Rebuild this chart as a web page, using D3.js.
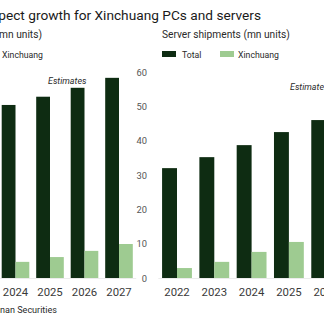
<!DOCTYPE html>
<html>
<head>
<meta charset="utf-8">
<title>Xinchuang PCs and servers</title>
<style type="text/css">
  body { margin: 0; background: #fff; }
  svg { display: block; font-family: Roboto, "Noto Sans", sans-serif; }
</style>
<script src="https://cdn.jsdelivr.net/npm/d3@7/dist/d3.min.js"></script>
</head>
<body>
<div id="chart"></div>
<script type="text/javascript">
// PC panel (left, cropped)
var pcYears = ["2024", "2025", "2026", "2027"];
var pcTotal = [50.4, 52.8, 55.4, 58.3];
var pcXinchuang = [4.7, 6.1, 7.9, 9.9];
var pcTicks = [0, 10, 20, 30, 40, 50, 60];

// server panel (right, cropped)
var serverYears = ["2022", "2023", "2024", "2025", "2026"];
var serverTotal = [3.2, 3.52, 3.87, 4.25, 4.6];
var serverXinchuang = [0.29, 0.47, 0.76, 1.05, 1.3];
var serverTicks = [0, 1, 2, 3, 4, 5, 6];

var seriesNames = ["Total", "Xinchuang"];
var colours = ["#0e2c12", "#9ecb91"];

var width = 324, height = 330;
var svg = d3.select("#chart").append("svg")
  .attr("width", width)
  .attr("height", height);

// font size that makes a string take a given width
function sizeFor(str, targetW, style) {
  var t = svg.append("text").style("font-size", "20px").text(str);
  if (style) t.style("font-style", style);
  var w = t.node().getComputedTextLength();
  t.remove();
  return 20 * targetW / w;
}

var titleSize = sizeFor("pect growth for Xinchuang PCs and servers", 263);
var subSize = sizeFor("Server shipments (mn units)", 128);
var legSize = sizeFor("Xinchuang", 41);
var yearSize = sizeFor("2024", 25.5);
var tickSize = sizeFor("10", 10.5);
var estSize = sizeFor("Estimates", 38.5, "italic");
var srcSize = sizeFor("nan Securities", 57);

svg.append("text")
  .attr("x", 261).attr("y", 19.5)
  .attr("text-anchor", "end")
  .style("font-size", titleSize + "px").style("fill", "#1a1a1a")
  .text("Analysts expect growth for Xinchuang PCs and servers");

var baseY = 278, topY = 72;

function panel(opts) {
  var g = svg.append("g");
  var x = d3.scaleBand().domain(opts.years).range(opts.xRange)
    .paddingInner(0.2).paddingOuter(0.1);
  var x1 = d3.scaleBand().domain(seriesNames).range([0, x.bandwidth()]);
  var y = d3.scaleLinear().domain(opts.yDomain).range([baseY, topY]);

  g.append("text")
    .attr("x", opts.subX).attr("y", 38)
    .attr("text-anchor", opts.subAnchor)
    .style("font-size", subSize + "px").style("fill", "#2a2a2a")
    .text(opts.subtitle);

  // legend
  var leg = g.append("g").attr("transform", "translate(" + opts.legX + ",54)");
  var swX = [0, 58], txX = [20, 76];
  seriesNames.forEach(function (name, i) {
    leg.append("rect").attr("x", swX[i]).attr("y", -3).attr("width", 14).attr("height", 6)
      .style("fill", colours[i]);
    leg.append("text").attr("x", txX[i]).attr("y", 4)
      .style("font-size", legSize + "px").style("fill", "#2a2a2a").text(name);
  });

  g.append("line")
    .attr("x1", opts.xRange[0]).attr("x2", opts.xRange[1])
    .attr("y1", baseY + 0.5).attr("y2", baseY + 0.5)
    .style("stroke", "#ececec");

  var rows = opts.years.map(function (yr, i) {
    return { year: yr, values: [opts.total[i], opts.xin[i]] };
  });
  g.selectAll("g.grp").data(rows).enter().append("g")
    .attr("class", "grp")
    .attr("transform", function (d) { return "translate(" + x(d.year) + ",0)"; })
    .selectAll("rect").data(function (d) { return d.values; }).enter().append("rect")
    .attr("x", function (d, i) { return x1(seriesNames[i]); })
    .attr("width", x1.bandwidth())
    .attr("y", function (d) { return y(d); })
    .attr("height", function (d) { return baseY - y(d); })
    .style("fill", function (d, i) { return colours[i]; });

  var xAxis = g.append("g").attr("transform", "translate(0," + baseY + ")")
    .call(d3.axisBottom(x).tickSize(0).tickPadding(10));
  xAxis.select(".domain").remove();
  xAxis.selectAll("text").style("font-size", yearSize + "px").style("fill", "#3a3a3a")
    .style("font-family", "Roboto, sans-serif");

  var yAxis = g.append("g").attr("transform", "translate(" + opts.axisX + ",0)")
    .call(d3.axisLeft(y).tickValues(opts.ticks).tickSize(0).tickPadding(0));
  yAxis.select(".domain").remove();
  yAxis.selectAll("text").style("font-size", tickSize + "px").style("fill", "#555")
    .style("font-family", "Roboto, sans-serif");

  g.append("text")
    .attr("x", opts.estX).attr("y", opts.estY)
    .style("font-size", estSize + "px").style("font-style", "italic").style("fill", "#2a2a2a")
    .text("Estimates");
}

panel({
  years: pcYears, total: pcTotal, xin: pcXinchuang, ticks: pcTicks,
  xRange: [-1.75, 136.25], yDomain: [0, 60], axisX: 147,
  subtitle: "PC shipments (mn units)", subX: 42, subAnchor: "end",
  legX: -74, estX: 48, estY: 84
});

panel({
  years: serverYears, total: serverTotal, xin: serverXinchuang, ticks: serverTicks,
  xRange: [158.35, 344.85], yDomain: [0, 6], axisX: 372,
  subtitle: "Server shipments (mn units)", subX: 162, subAnchor: "start",
  legX: 162, estX: 290, estY: 90
});

svg.append("text")
  .attr("x", 57).attr("y", 313)
  .attr("text-anchor", "end")
  .style("font-size", srcSize + "px").style("fill", "#2a2a2a")
  .text("Source: Guotai Junan Securities");
</script>
</body>
</html>
